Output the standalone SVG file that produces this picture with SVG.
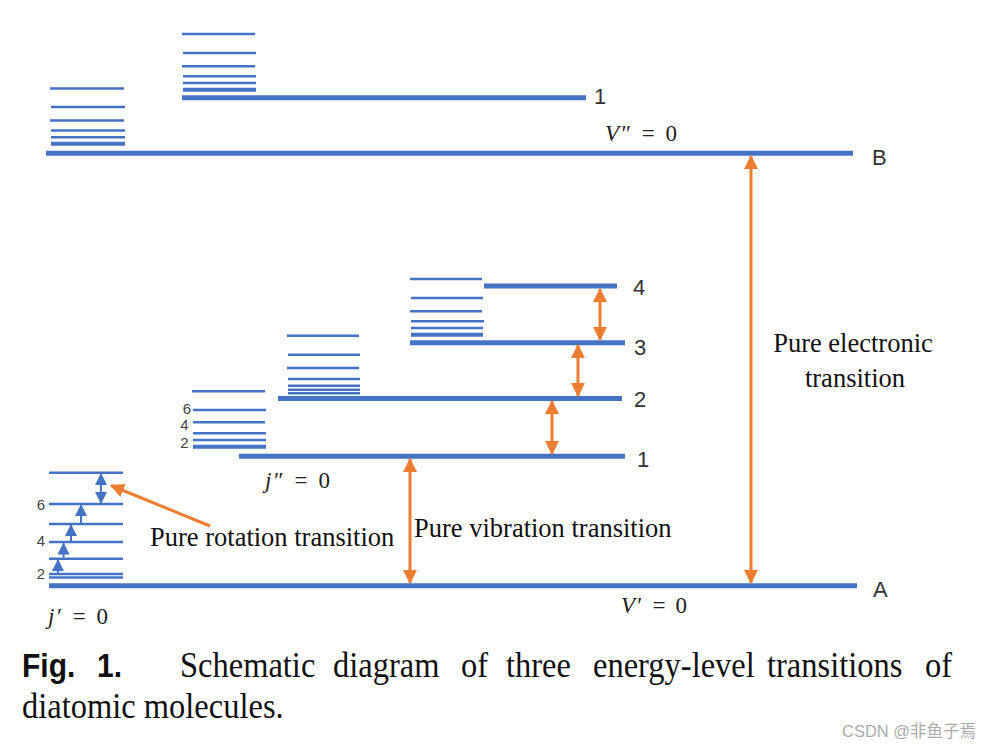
<svg xmlns="http://www.w3.org/2000/svg" width="993" height="750" viewBox="0 0 993 750">
<style>
.lv{stroke:#4472C4;stroke-width:2.5;fill:none}
.lt{stroke:#4472C4;stroke-width:4;fill:none}
.lm{stroke:#4472C4;stroke-width:5;fill:none}
.num{font-family:"Liberation Sans","Noto Sans",sans-serif;font-size:22px;fill:#333}
.sm{font-family:"Liberation Sans","Noto Sans",sans-serif;font-size:15px;fill:#444}
.math{font-family:"Liberation Serif","DejaVu Serif",serif;font-size:23px;fill:#222}
.lab{font-family:"Liberation Serif","DejaVu Serif",serif;font-size:26.5px;fill:#111}
.cap{font-family:"Liberation Serif","DejaVu Serif",serif;font-size:32.5px;fill:#111}
.ob{stroke:#ED7D31;stroke-width:3;fill:none}
.bb{stroke:#4472C4;stroke-width:2;fill:none}
</style>
<defs>
<marker id="oa" markerUnits="userSpaceOnUse" markerWidth="14" markerHeight="14" viewBox="0 0 14 14" refX="13" refY="7" orient="auto-start-reverse">
<path d="M0,0 L14,7 L0,14 Z" fill="#ED7D31"/>
</marker>
<marker id="ba" markerUnits="userSpaceOnUse" markerWidth="12" markerHeight="12" viewBox="0 0 12 12" refX="11" refY="6" orient="auto-start-reverse">
<path d="M0,0 L12,6 L0,12 Z" fill="#4472C4"/>
</marker>
</defs>
<rect width="993" height="750" fill="#fff"/>

<g id="level-B">
<line class="lv" x1="50" y1="88.5" x2="124" y2="88.5"/>
<line class="lv" x1="51" y1="107" x2="125" y2="107"/>
<line class="lv" x1="50" y1="120.5" x2="124" y2="120.5"/>
<line class="lv" x1="51" y1="130.5" x2="125" y2="130.5"/>
<line class="lv" x1="51" y1="137.3" x2="125" y2="137.3"/>
<line class="lt" x1="51" y1="143.8" x2="125" y2="143.8"/>
<line class="lm" x1="46" y1="153.3" x2="853" y2="153.3"/>
<text class="num" x="872" y="164.5">B</text>
<text class="math" x="605" y="141" textLength="72" lengthAdjust="spacing"><tspan font-style="italic">V</tspan>″ = 0</text>
</g>

<g id="level-B-v1">
<line class="lv" x1="182" y1="34" x2="255" y2="34"/>
<line class="lv" x1="183" y1="53" x2="256" y2="53"/>
<line class="lv" x1="182" y1="66.3" x2="255" y2="66.3"/>
<line class="lv" x1="183" y1="76.3" x2="256" y2="76.3"/>
<line class="lv" x1="183" y1="83" x2="256" y2="83"/>
<line class="lt" x1="183" y1="89.7" x2="256" y2="89.7"/>
<line class="lm" x1="182" y1="97.7" x2="586" y2="97.7"/>
<text class="num" x="594" y="104">1</text>
</g>

<g id="level-A">
<line class="lv" x1="49" y1="472.7" x2="123" y2="472.7"/>
<line class="lv" x1="49" y1="504" x2="123" y2="504"/>
<line class="lv" x1="49" y1="524" x2="123" y2="524"/>
<line class="lv" x1="49" y1="542" x2="123" y2="542"/>
<line class="lv" x1="49" y1="558.7" x2="123" y2="558.7"/>
<line class="lv" x1="49" y1="574" x2="123" y2="574"/>
<line class="lv" x1="49" y1="577.6" x2="123" y2="577.6"/>
<line class="lm" x1="49" y1="585.7" x2="857" y2="585.7"/>
<text class="sm" x="45" y="509.5" text-anchor="end">6</text>
<text class="sm" x="45" y="546" text-anchor="end">4</text>
<text class="sm" x="45" y="578.5" text-anchor="end">2</text>
<text class="math" x="48" y="624" textLength="60" lengthAdjust="spacing"><tspan font-style="italic">j</tspan>′ = 0</text>
<text class="num" x="873" y="597">A</text>
<text class="math" x="621" y="613" textLength="66" lengthAdjust="spacing"><tspan font-style="italic">V</tspan>′ = 0</text>
</g>

<g id="level-A-v1">
<line class="lv" x1="192" y1="391.3" x2="265" y2="391.3"/>
<line class="lv" x1="193" y1="410" x2="266" y2="410"/>
<line class="lv" x1="193" y1="422.3" x2="265" y2="422.3"/>
<line class="lv" x1="193" y1="433.3" x2="266" y2="433.3"/>
<line class="lv" x1="193" y1="440" x2="266" y2="440"/>
<line class="lt" x1="193" y1="446.7" x2="266" y2="446.7"/>
<line class="lm" x1="239" y1="456.3" x2="625" y2="456.3"/>
<text class="sm" x="191" y="414.3" text-anchor="end">6</text>
<text class="sm" x="188.5" y="430" text-anchor="end" font-size="12">4</text>
<text class="sm" x="188.5" y="448" text-anchor="end" font-size="12">2</text>
<text class="math" x="265" y="488" textLength="65" lengthAdjust="spacing"><tspan font-style="italic">j</tspan>″ = 0</text>
<text class="num" x="637" y="467">1</text>
</g>

<g id="level-A-v2">
<line class="lv" x1="287" y1="335.7" x2="359" y2="335.7"/>
<line class="lv" x1="288" y1="354.7" x2="360" y2="354.7"/>
<line class="lv" x1="287" y1="368" x2="359" y2="368"/>
<line class="lv" x1="288" y1="379" x2="360" y2="379"/>
<line class="lv" x1="288" y1="385.7" x2="360" y2="385.7"/>
<line class="lv" x1="288" y1="389.7" x2="360" y2="389.7"/>
<line class="lv" x1="288" y1="393.3" x2="360" y2="393.3"/>
<line class="lm" x1="278" y1="398.5" x2="622" y2="398.5"/>
<text class="num" x="634" y="407">2</text>
</g>

<g id="level-A-v3">
<line class="lv" x1="410" y1="279" x2="482" y2="279"/>
<line class="lv" x1="411" y1="298" x2="483" y2="298"/>
<line class="lv" x1="410" y1="311.3" x2="482" y2="311.3"/>
<line class="lv" x1="411" y1="321.3" x2="484" y2="321.3"/>
<line class="lv" x1="411" y1="328" x2="483" y2="328"/>
<line class="lt" x1="411" y1="334.7" x2="483" y2="334.7"/>
<line class="lm" x1="410" y1="342.7" x2="625" y2="342.7"/>
<text class="num" x="634" y="355">3</text>
</g>

<g id="level-A-v4">
<line class="lm" x1="484" y1="286" x2="617" y2="286"/>
<text class="num" x="633" y="295">4</text>
</g>

<g id="connectors">
<line class="ob" x1="751" y1="156" x2="751" y2="583" marker-start="url(#oa)" marker-end="url(#oa)"/>
<line class="ob" x1="410" y1="459" x2="410" y2="583" marker-start="url(#oa)" marker-end="url(#oa)"/>
<line class="ob" x1="552" y1="401" x2="552" y2="454" marker-start="url(#oa)" marker-end="url(#oa)"/>
<line class="ob" x1="578" y1="345" x2="578" y2="396" marker-start="url(#oa)" marker-end="url(#oa)"/>
<line class="ob" x1="600" y1="289" x2="600" y2="340" marker-start="url(#oa)" marker-end="url(#oa)"/>
<line class="ob" x1="210" y1="526" x2="111" y2="485.5" marker-end="url(#oa)"/>
<line class="bb" x1="58" y1="573" x2="58" y2="560" marker-end="url(#ba)"/>
<line class="bb" x1="63.5" y1="557.5" x2="63.5" y2="543.5" marker-end="url(#ba)"/>
<line class="bb" x1="71" y1="541" x2="71" y2="525" marker-end="url(#ba)"/>
<line class="bb" x1="81" y1="523" x2="81" y2="505" marker-end="url(#ba)"/>
<line class="bb" x1="101" y1="503" x2="101" y2="474" marker-start="url(#ba)" marker-end="url(#ba)"/>
</g>

<g id="labels">
<text class="lab" x="150" y="546">Pure rotation transition</text>
<text class="lab" x="414" y="537">Pure vibration transition</text>
<text class="lab" x="853" y="352" text-anchor="middle">Pure electronic</text>
<text class="lab" x="855" y="387" text-anchor="middle">transition</text>
</g>

<g id="caption">
<text font-family="'Liberation Sans','Noto Sans',sans-serif" font-weight="bold" font-size="30" fill="#111" transform="matrix(1,0,0,1.1,0,677)" y="0"><tspan x="22">Fig.</tspan><tspan x="97">1.</tspan></text>
<text class="cap" transform="matrix(1,0,0,1.1,0,677)" y="0"><tspan x="180">Schematic</tspan><tspan x="333">diagram</tspan><tspan x="461">of</tspan><tspan x="506">three</tspan><tspan x="593">energy-level</tspan><tspan x="767">transitions</tspan><tspan x="925">of</tspan></text>
<text class="cap" transform="matrix(1,0,0,1.1,0,718)" x="22" y="0">diatomic molecules.</text>
<text x="842" y="737" font-family="'Liberation Sans','Noto Sans','Noto Sans CJK SC',sans-serif" font-size="16.5" fill="#aaa">CSDN @非鱼子焉</text>
</g>
</svg>
